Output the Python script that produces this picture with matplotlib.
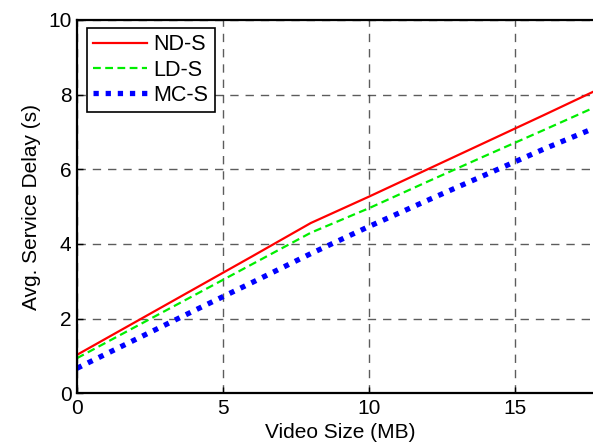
import numpy as np
import matplotlib
matplotlib.use('Agg')
from matplotlib import pyplot as plt

plt.rcParams['font.family'] = ['Liberation Sans', 'DejaVu Sans']

size_mb = [0, 2, 4, 6, 8, 10, 12, 14, 16, 18]
nd_s = [1.03, 1.91, 2.79, 3.67, 4.56, 5.27, 6.00, 6.73, 7.46, 8.20]
ld_s = [0.94, 1.78, 2.62, 3.46, 4.30, 4.96, 5.67, 6.37, 7.06, 7.76]
mc_s = [0.67, 1.44, 2.21, 2.97, 3.74, 4.47, 5.17, 5.86, 6.55, 7.20]

x_ticks = [0, 5, 10, 15]
y_ticks = [0, 2, 4, 6, 8, 10]

fig = plt.figure(figsize=(5.93, 4.45), dpi=100)
# right spine sits just past the image edge, like the cropped original
ax = fig.add_axes([0.1298, 0.1162, 0.887, 0.839])

ax.plot(size_mb, nd_s, color='#ff0000', linestyle='-', linewidth=1.6, label='ND-S')
ax.plot(size_mb, ld_s, color='#00ee00', linestyle=(0, (3.5, 2)), linewidth=1.6, label='LD-S')
ax.plot(size_mb, mc_s, color='#0000ff', linestyle=(0, (1, 1.3)), linewidth=3.8, label='MC-S')

ax.set_xlim(0, 18)
ax.set_ylim(0, 10)
ax.set_xticks(x_ticks)
ax.set_yticks(y_ticks)
ax.grid(True, color='#333333', linestyle=(0, (6, 5)), linewidth=1.0, alpha=0.8)
ax.tick_params(direction='in', length=4, width=1, labelsize=15, pad=4)
for sp in ax.spines.values():
    sp.set_linewidth(1.6)

ax.set_xlabel('Video Size (MB)', fontsize=15, labelpad=4)
ax.set_ylabel('Avg. Service Delay (s)', fontsize=15, labelpad=5)

leg = ax.legend(loc='upper left', bbox_to_anchor=(0.019, 0.979), borderaxespad=0,
                fontsize=15.5, frameon=True, fancybox=False, framealpha=1,
                edgecolor='black', handlelength=2.5, handletextpad=0.3,
                borderpad=0.3, labelspacing=0.2)
leg.get_frame().set_linewidth(1.2)

fig.savefig('out.png', dpi=100)
